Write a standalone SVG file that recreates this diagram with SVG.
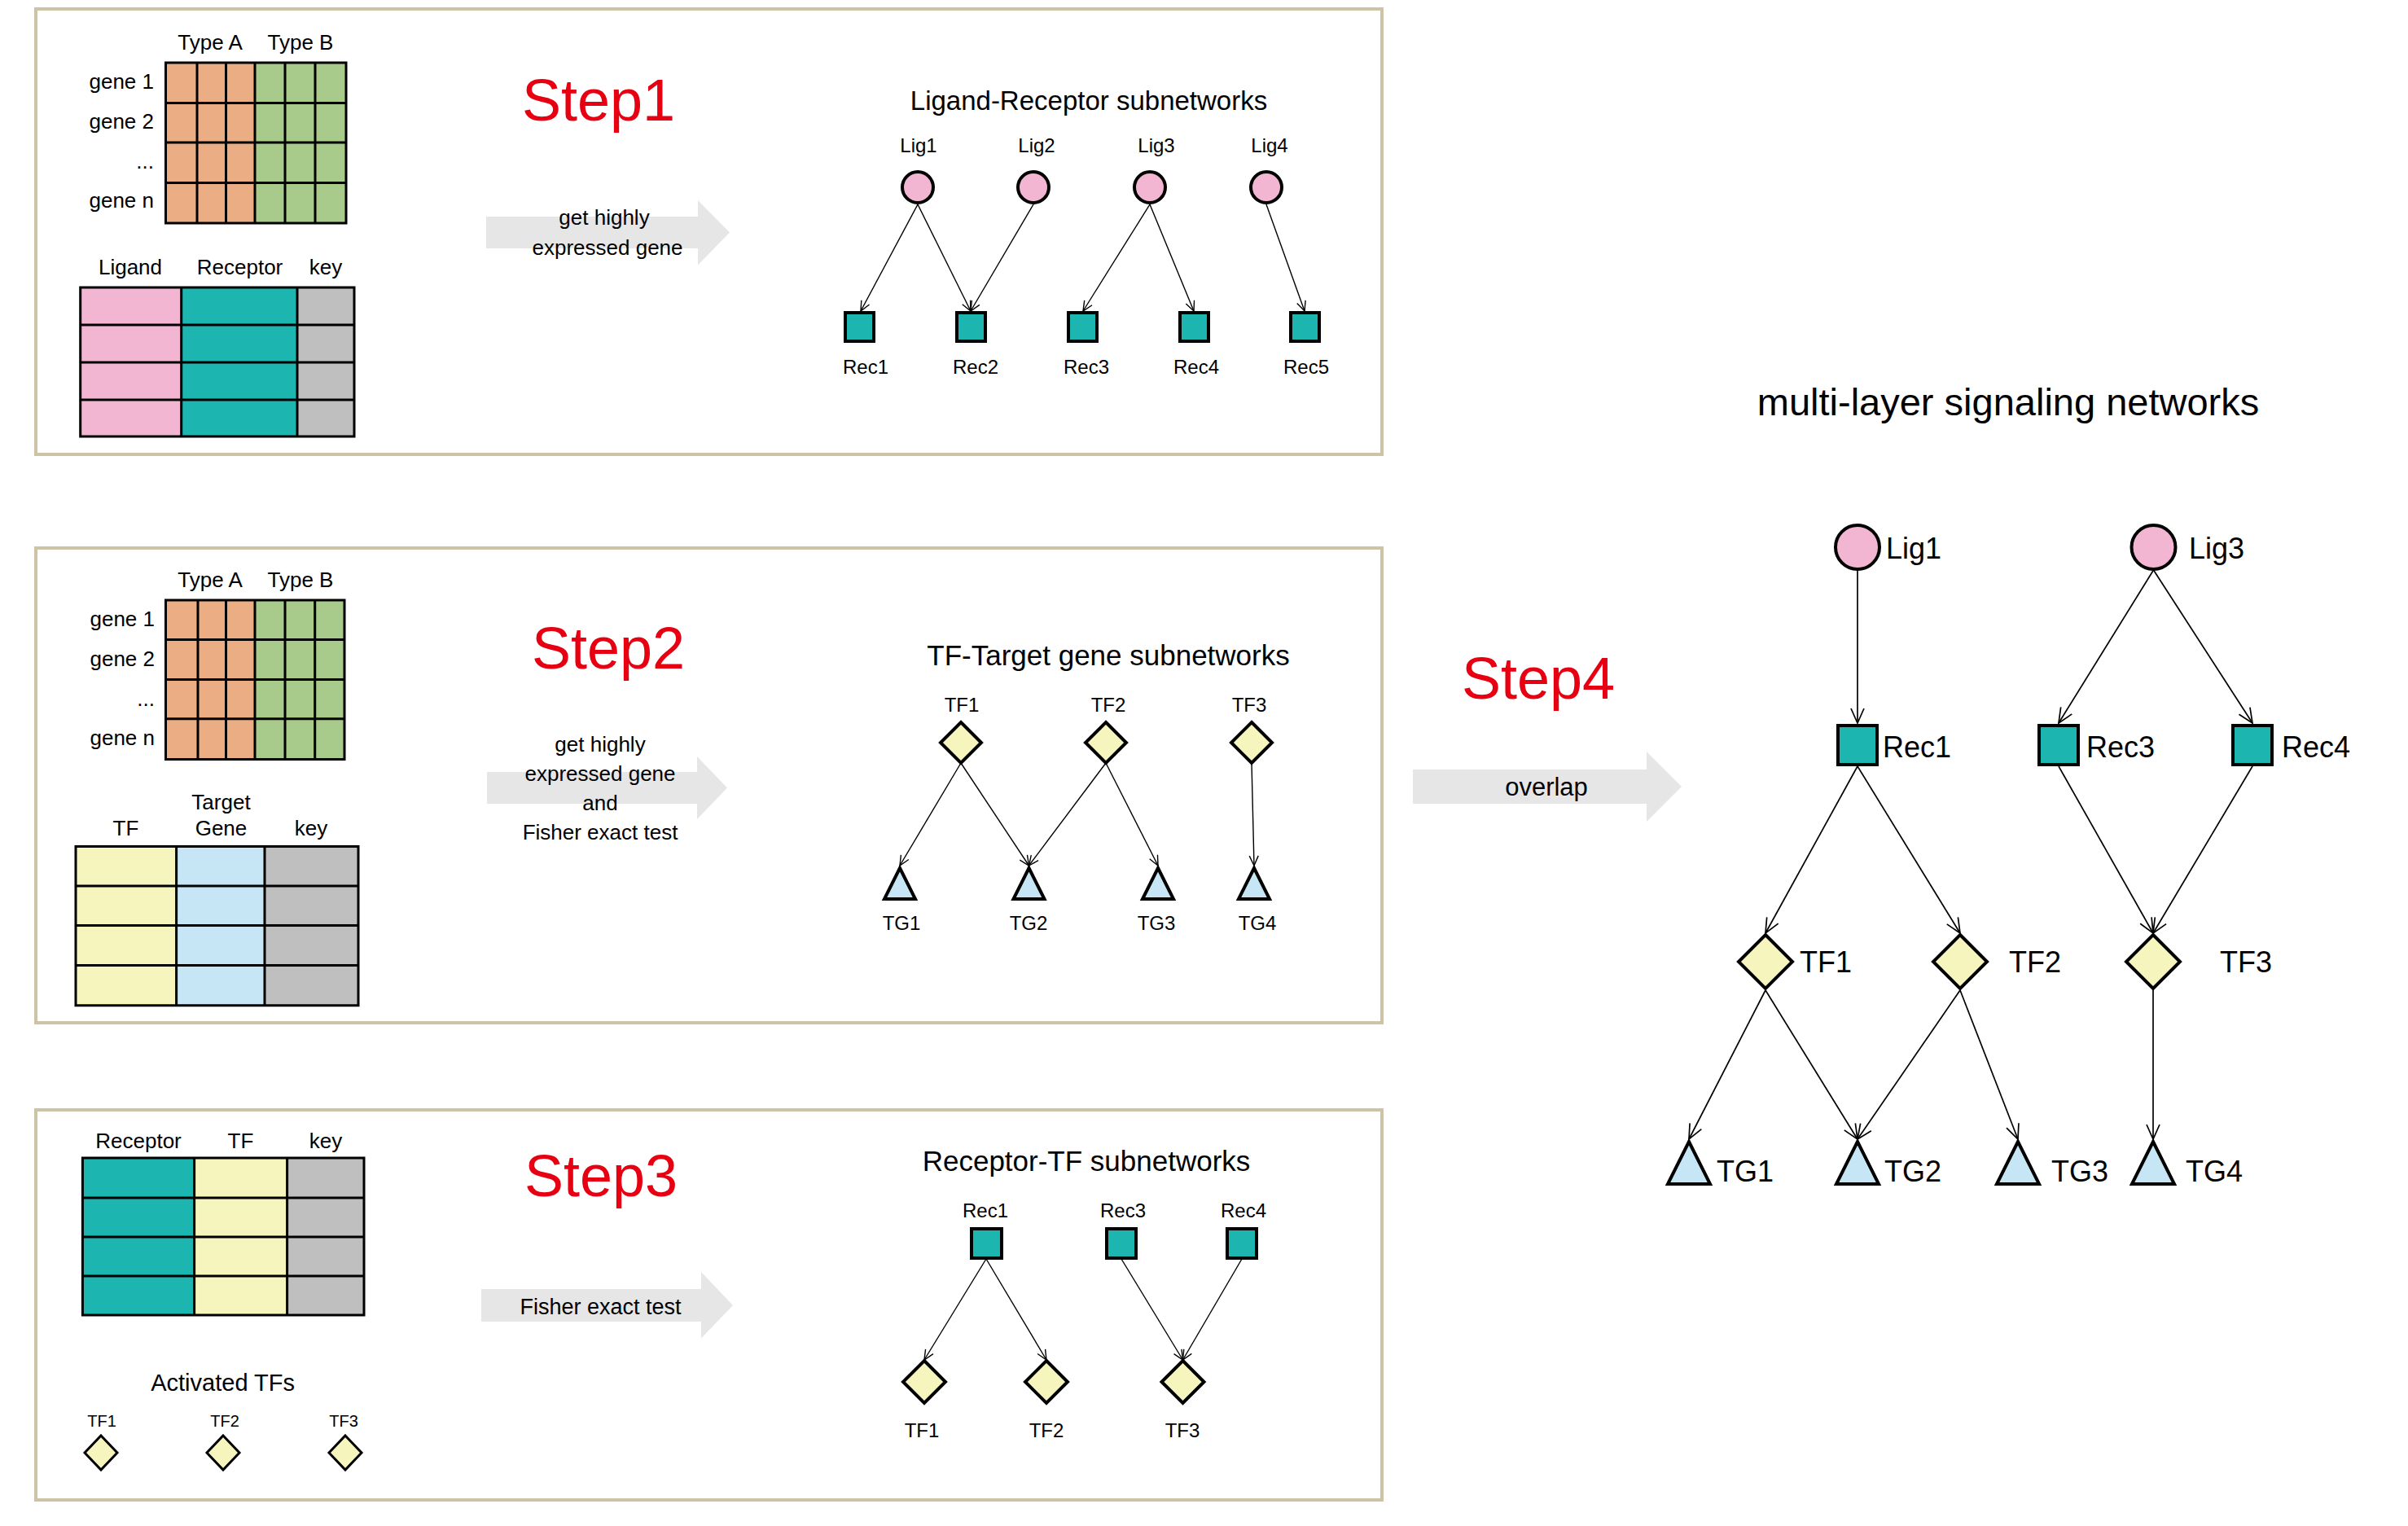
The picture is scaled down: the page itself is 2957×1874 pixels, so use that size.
<svg xmlns="http://www.w3.org/2000/svg" width="2957" height="1874" viewBox="0 0 2957 1874">
<defs>
<style>
text{font-family:"Liberation Sans",Arial,sans-serif;fill:#000}
.panel{fill:#fff;stroke:#CEC3A5;stroke-width:4}
.grid{stroke:#000;stroke-width:3;fill:none}
.step{font-size:72px;fill:#E60012;text-anchor:middle}
.hdr{font-size:26px;text-anchor:middle}
.gl{font-size:26px;text-anchor:end}
.title{font-size:35px;text-anchor:middle}
.atxt{font-size:26px;text-anchor:middle}
.lbl{font-size:24px;text-anchor:middle}
.big{font-size:36px}
.barrow{fill:#E7E6E6}
.lig{fill:#F2B6D2;stroke:#000;stroke-width:4}
.rec{fill:#1CB5B0;stroke:#000;stroke-width:4}
.tf{fill:#F6F5BD;stroke:#000;stroke-width:4}
.tg{fill:#C6E6F6;stroke:#000;stroke-width:4;stroke-linejoin:miter}
.e{stroke:#000;stroke-width:1.4;fill:none;marker-end:url(#ah)}
.eb{stroke:#000;stroke-width:1.7;fill:none;marker-end:url(#ahb)}
.or{fill:#EBAD83}.gr{fill:#A8CB8B}.pk{fill:#F2B6D2}.tl{fill:#1CB5B0}.gy{fill:#BFBFBF}.yl{fill:#F6F5BD}.lb{fill:#C6E6F6}
</style>
<marker id="ah" viewBox="0 0 14 14" refX="13" refY="7" markerWidth="14" markerHeight="14" markerUnits="userSpaceOnUse" orient="auto">
<path d="M1,1.5 L13,7 L1,12.5" fill="none" stroke="#000" stroke-width="1.4"/>
</marker>
<marker id="ahb" viewBox="0 0 20 20" refX="19" refY="10" markerWidth="20" markerHeight="20" markerUnits="userSpaceOnUse" orient="auto">
<path d="M1,2 L19,10 L1,18" fill="none" stroke="#000" stroke-width="1.7"/>
</marker>
</defs>
<rect width="2957" height="1874" fill="#fff"/>

<!-- Panels -->
<g id="panel1"><rect class="panel" x="44" y="11" width="1653" height="547"/></g>
<g id="panel2"><rect class="panel" x="44" y="673" width="1653" height="583"/></g>
<g id="panel3"><rect class="panel" x="44" y="1363" width="1653" height="479"/></g>

<!-- Step 1 expression matrix -->
<g id="matrix1">
<rect class="or" x="203.5" y="77" width="109.5" height="197"/>
<rect class="gr" x="313" y="77" width="112" height="197"/>
<path class="grid" d="M203.5,77H425V274H203.5Z M242,77V274 M277.5,77V274 M313,77V274 M350,77V274 M387,77V274 M203.5,126.5H425 M203.5,175H425 M203.5,224.5H425"/>
<text class="hdr" x="258" y="61">Type A</text>
<text class="hdr" x="369" y="61">Type B</text>
<text class="gl" x="189" y="109">gene 1</text>
<text class="gl" x="189" y="158">gene 2</text>
<text class="gl" x="189" y="207">...</text>
<text class="gl" x="189" y="255">gene n</text>
</g>

<g id="table-lr">
<rect class="pk" x="98.7" y="353" width="124" height="183"/>
<rect class="tl" x="222.7" y="353" width="142.3" height="183"/>
<rect class="gy" x="365" y="353" width="70" height="183"/>
<path class="grid" d="M98.7,353H435V536H98.7Z M222.7,353V536 M365,353V536 M98.7,399H435 M98.7,445H435 M98.7,491H435"/>
<text class="hdr" x="160" y="337">Ligand</text>
<text class="hdr" x="294.5" y="337">Receptor</text>
<text class="hdr" x="400" y="337">key</text>
</g>

<text id="step1" class="step" x="735" y="148">Step1</text>

<g id="arrow1">
<path class="barrow" d="M597,266H857V246L896,285.5L857,325.5V305H597Z"/>
<text class="atxt" x="742" y="276">get highly</text>
<text class="atxt" x="746" y="313">expressed gene</text>
</g>

<!-- Step 1 network -->
<text id="title1" class="title" x="1337" y="135" style="font-size:33px">Ligand-Receptor subnetworks</text>
<g id="connectors1">
<line class="e" x1="1127" y1="251" x2="1057" y2="382"/>
<line class="e" x1="1127" y1="251" x2="1192" y2="382"/>
<line class="e" x1="1269" y1="251" x2="1192" y2="382"/>
<line class="e" x1="1412" y1="251" x2="1330" y2="382"/>
<line class="e" x1="1412" y1="251" x2="1466" y2="382"/>
<line class="e" x1="1555" y1="251" x2="1602" y2="382"/>
</g>
<g id="s1-lig1"><circle class="lig" cx="1127" cy="230" r="19"/><text class="lbl" x="1128" y="187">Lig1</text></g>
<g id="s1-lig2"><circle class="lig" cx="1269" cy="230" r="19"/><text class="lbl" x="1273" y="187">Lig2</text></g>
<g id="s1-lig3"><circle class="lig" cx="1412" cy="230" r="19"/><text class="lbl" x="1420" y="187">Lig3</text></g>
<g id="s1-lig4"><circle class="lig" cx="1555" cy="230" r="19"/><text class="lbl" x="1559" y="187">Lig4</text></g>
<g id="s1-rec1"><rect class="rec" x="1038" y="384" width="35" height="35"/><text class="lbl" x="1063" y="459">Rec1</text></g>
<g id="s1-rec2"><rect class="rec" x="1175" y="384" width="35" height="35"/><text class="lbl" x="1198" y="459">Rec2</text></g>
<g id="s1-rec3"><rect class="rec" x="1312" y="384" width="35" height="35"/><text class="lbl" x="1334" y="459">Rec3</text></g>
<g id="s1-rec4"><rect class="rec" x="1449" y="384" width="35" height="35"/><text class="lbl" x="1469" y="459">Rec4</text></g>
<g id="s1-rec5"><rect class="rec" x="1585" y="384" width="35" height="35"/><text class="lbl" x="1604" y="459">Rec5</text></g>

<!-- Step 2 -->
<g id="matrix2">
<rect class="or" x="203.5" y="737" width="109.5" height="195.5"/>
<rect class="gr" x="313" y="737" width="110" height="195.5"/>
<path class="grid" d="M203.5,737H423V932.5H203.5Z M243,737V932.5 M277.5,737V932.5 M313,737V932.5 M350,737V932.5 M386.7,737V932.5 M203.5,785.5H423 M203.5,834.5H423 M203.5,882.7H423"/>
<text class="hdr" x="258" y="721">Type A</text>
<text class="hdr" x="369" y="721">Type B</text>
<text class="gl" x="190" y="769">gene 1</text>
<text class="gl" x="190" y="818">gene 2</text>
<text class="gl" x="190" y="867">...</text>
<text class="gl" x="190" y="915">gene n</text>
</g>

<g id="table-tf">
<rect class="yl" x="93" y="1039.6" width="123.6" height="195.2"/>
<rect class="lb" x="216.6" y="1039.6" width="108.4" height="195.2"/>
<rect class="gy" x="325" y="1039.6" width="115" height="195.2"/>
<path class="grid" d="M93,1039.6H440V1234.8H93Z M216.6,1039.6V1234.8 M325,1039.6V1234.8 M93,1088H440 M93,1136.5H440 M93,1185.5H440"/>
<text class="hdr" x="154.5" y="1026">TF</text>
<text class="hdr" x="271.5" y="994">Target</text>
<text class="hdr" x="271.5" y="1026">Gene</text>
<text class="hdr" x="382" y="1026">key</text>
</g>

<text id="step2" class="step" x="747" y="821">Step2</text>

<g id="arrow2">
<path class="barrow" d="M598,948H856V929L893,967.5L856,1006V987H598Z"/>
<text class="atxt" x="737" y="923">get highly</text>
<text class="atxt" x="737" y="959">expressed gene</text>
<text class="atxt" x="737" y="995">and</text>
<text class="atxt" x="737" y="1031">Fisher exact test</text>
</g>

<text id="title2" class="title" x="1361" y="817">TF-Target gene subnetworks</text>
<g id="connectors2">
<line class="e" x1="1180" y1="937" x2="1105" y2="1063"/>
<line class="e" x1="1180" y1="937" x2="1263.5" y2="1063"/>
<line class="e" x1="1358" y1="937" x2="1263.5" y2="1063"/>
<line class="e" x1="1358" y1="937" x2="1422" y2="1063"/>
<line class="e" x1="1537" y1="937" x2="1540" y2="1063"/>
</g>
<g id="s2-tf1"><path class="tf" d="M1180,887L1205,912L1180,937L1155,912Z"/><text class="lbl" x="1181" y="874">TF1</text></g>
<g id="s2-tf2"><path class="tf" d="M1358,887L1383,912L1358,937L1333,912Z"/><text class="lbl" x="1361" y="874">TF2</text></g>
<g id="s2-tf3"><path class="tf" d="M1537,887L1562,912L1537,937L1512,912Z"/><text class="lbl" x="1534" y="874">TF3</text></g>
<g id="s2-tg1"><path class="tg" d="M1105,1066L1124,1104H1086Z"/><text class="lbl" x="1107" y="1142">TG1</text></g>
<g id="s2-tg2"><path class="tg" d="M1263.5,1066L1282.5,1104H1244.5Z"/><text class="lbl" x="1263" y="1142">TG2</text></g>
<g id="s2-tg3"><path class="tg" d="M1422,1066L1441,1104H1403Z"/><text class="lbl" x="1420" y="1142">TG3</text></g>
<g id="s2-tg4"><path class="tg" d="M1540,1066L1559,1104H1521Z"/><text class="lbl" x="1544" y="1142">TG4</text></g>

<!-- Step 3 -->
<g id="table-rt">
<rect class="tl" x="101.4" y="1422" width="137.2" height="193"/>
<rect class="yl" x="238.6" y="1422" width="114" height="193"/>
<rect class="gy" x="352.6" y="1422" width="94.4" height="193"/>
<path class="grid" d="M101.4,1422H447V1615H101.4Z M238.6,1422V1615 M352.6,1422V1615 M101.4,1471H447 M101.4,1519H447 M101.4,1567H447"/>
<text class="hdr" x="170" y="1410">Receptor</text>
<text class="hdr" x="295.5" y="1410">TF</text>
<text class="hdr" x="400" y="1410">key</text>
</g>

<g id="activated-tfs">
<text x="273.6" y="1708" style="font-size:29px;text-anchor:middle">Activated TFs</text>
<path class="tf" style="stroke-width:3" d="M124,1763L144,1784L124,1805L104,1784Z"/>
<path class="tf" style="stroke-width:3" d="M274,1763L294,1784L274,1805L254,1784Z"/>
<path class="tf" style="stroke-width:3" d="M424,1763L444,1784L424,1805L404,1784Z"/>
<text x="125" y="1752" style="font-size:20px;text-anchor:middle">TF1</text>
<text x="276" y="1752" style="font-size:20px;text-anchor:middle">TF2</text>
<text x="422" y="1752" style="font-size:20px;text-anchor:middle">TF3</text>
</g>

<text id="step3" class="step" x="738" y="1469">Step3</text>

<g id="arrow3">
<path class="barrow" d="M591,1583H861V1562L900,1603L861,1643.5V1623H591Z"/>
<text x="737.5" y="1614" style="font-size:27px;text-anchor:middle">Fisher exact test</text>
</g>

<text id="title3" class="title" x="1334" y="1438">Receptor-TF subnetworks</text>
<g id="connectors3">
<line class="e" x1="1211" y1="1546" x2="1135" y2="1670"/>
<line class="e" x1="1211" y1="1546" x2="1285" y2="1670"/>
<line class="e" x1="1377" y1="1546" x2="1452.5" y2="1670"/>
<line class="e" x1="1525" y1="1546" x2="1452.5" y2="1670"/>
</g>
<g id="s3-rec1"><rect class="rec" x="1193" y="1509" width="37" height="36"/><text class="lbl" x="1210" y="1495">Rec1</text></g>
<g id="s3-rec3"><rect class="rec" x="1359" y="1509" width="36" height="36"/><text class="lbl" x="1379" y="1495">Rec3</text></g>
<g id="s3-rec4"><rect class="rec" x="1507" y="1509" width="36" height="36"/><text class="lbl" x="1527" y="1495">Rec4</text></g>
<g id="s3-tf1"><path class="tf" d="M1135,1671L1161,1697L1135,1723L1109,1697Z"/><text class="lbl" x="1132" y="1765">TF1</text></g>
<g id="s3-tf2"><path class="tf" d="M1285,1671L1311,1697L1285,1723L1259,1697Z"/><text class="lbl" x="1285" y="1765">TF2</text></g>
<g id="s3-tf3"><path class="tf" d="M1452.5,1671L1478.5,1697L1452.5,1723L1426.5,1697Z"/><text class="lbl" x="1452" y="1765">TF3</text></g>

<!-- Step 4 -->
<text id="step4" class="step" x="1889" y="858">Step4</text>
<g id="arrow4">
<path class="barrow" d="M1735,945H2022V923L2065,966L2022,1009V987H1735Z"/>
<text x="1899" y="977" style="font-size:31px;text-anchor:middle">overlap</text>
</g>

<text id="title4" x="2466" y="510" style="font-size:47px;text-anchor:middle">multi-layer signaling networks</text>
<g id="connectors4">
<line class="eb" x1="2281" y1="700" x2="2281" y2="888"/>
<line class="eb" x1="2644.5" y1="700" x2="2528" y2="888"/>
<line class="eb" x1="2644.5" y1="700" x2="2766" y2="888"/>
<line class="eb" x1="2281" y1="941" x2="2168" y2="1146"/>
<line class="eb" x1="2281" y1="941" x2="2407" y2="1146"/>
<line class="eb" x1="2528" y1="941" x2="2644" y2="1146"/>
<line class="eb" x1="2766" y1="941" x2="2644" y2="1146"/>
<line class="eb" x1="2168" y1="1216" x2="2074" y2="1399"/>
<line class="eb" x1="2168" y1="1216" x2="2281" y2="1399"/>
<line class="eb" x1="2407" y1="1216" x2="2281" y2="1399"/>
<line class="eb" x1="2407" y1="1216" x2="2478" y2="1399"/>
<line class="eb" x1="2644" y1="1216" x2="2644" y2="1399"/>
</g>
<g id="m-lig1"><circle class="lig" cx="2281" cy="672" r="27"/><text class="big" x="2316" y="686">Lig1</text></g>
<g id="m-lig3"><circle class="lig" cx="2644.5" cy="672" r="27"/><text class="big" x="2688" y="686">Lig3</text></g>
<g id="m-rec1"><rect class="rec" x="2257" y="891" width="48" height="48"/><text class="big" x="2312" y="930">Rec1</text></g>
<g id="m-rec3"><rect class="rec" x="2504" y="891" width="48" height="48"/><text class="big" x="2562" y="930">Rec3</text></g>
<g id="m-rec4"><rect class="rec" x="2742" y="891" width="48" height="48"/><text class="big" x="2802" y="930">Rec4</text></g>
<g id="m-tf1"><path class="tf" d="M2168,1148L2201,1181L2168,1214L2135,1181Z"/><text class="big" x="2210" y="1194">TF1</text></g>
<g id="m-tf2"><path class="tf" d="M2407,1148L2440,1181L2407,1214L2374,1181Z"/><text class="big" x="2467" y="1194">TF2</text></g>
<g id="m-tf3"><path class="tf" d="M2644,1148L2677,1181L2644,1214L2611,1181Z"/><text class="big" x="2726" y="1194">TF3</text></g>
<g id="m-tg1"><path class="tg" d="M2074,1402L2100,1454H2048Z"/><text class="big" x="2108" y="1451">TG1</text></g>
<g id="m-tg2"><path class="tg" d="M2281,1402L2307,1454H2255Z"/><text class="big" x="2314" y="1451">TG2</text></g>
<g id="m-tg3"><path class="tg" d="M2478,1402L2504,1454H2452Z"/><text class="big" x="2519" y="1451">TG3</text></g>
<g id="m-tg4"><path class="tg" d="M2644,1402L2670,1454H2618Z"/><text class="big" x="2684" y="1451">TG4</text></g>
</svg>
